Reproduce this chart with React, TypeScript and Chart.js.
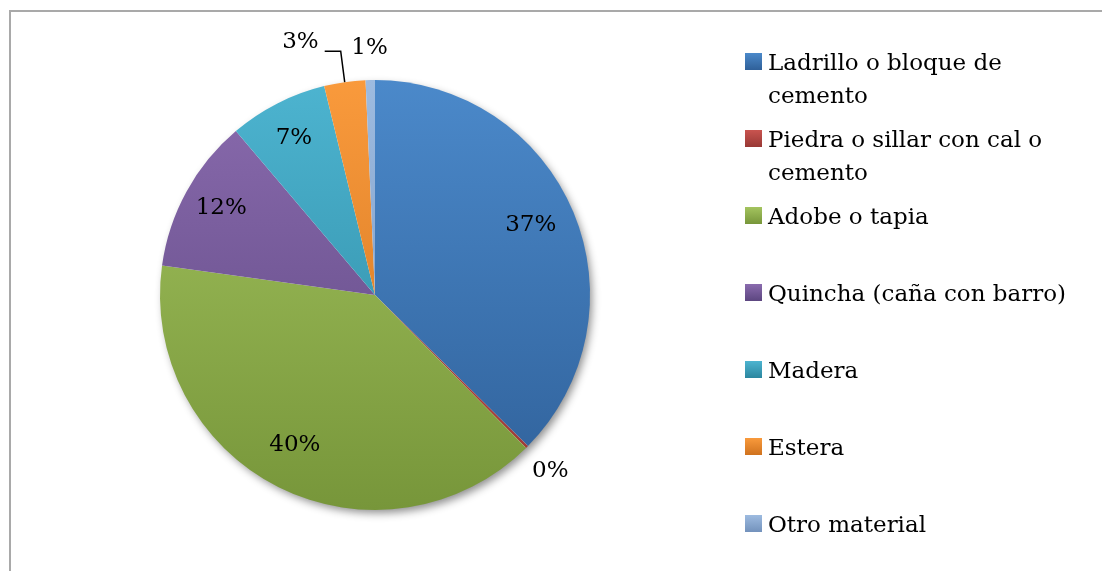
import React, { useEffect, useRef } from "react";
import { Chart, registerables } from "chart.js";

Chart.register(...registerables);

// ---- data ----
const categories = [
  "Ladrillo o bloque de cemento",
  "Piedra o sillar con cal o cemento",
  "Adobe o tapia",
  "Quincha (caña con barro)",
  "Madera",
  "Estera",
  "Otro material",
];
const legendLines = [
  ["Ladrillo o bloque de", "cemento"],
  ["Piedra o sillar con cal o", "cemento"],
  ["Adobe o tapia"],
  ["Quincha (caña con barro)"],
  ["Madera"],
  ["Estera"],
  ["Otro material"],
];
const shares = [37.4, 0.2, 39.6, 11.6, 7.4, 3.1, 0.7];
const labelModes = ["inside", "outside", "inside", "inside", "inside", "leader", "outside"];

// ---- styles ----
const topColors = ["#4b89ca", "#c9544f", "#a4c45f", "#8a6bae", "#4db4d0", "#f99a3c", "#9dbbe0"];
const bottomColors = ["#2f6099", "#983835", "#77963a", "#5c4680", "#2b869f", "#cf721e", "#7392bc"];
const FONT = '23px "DejaVu Serif", "Liberation Serif", serif';

const pieDecor = {
  id: "pieDecor",
  beforeDatasetsDraw(chart: any) {
    const meta = chart.getDatasetMeta(0);
    const a = meta.data[0];
    if (!a) return;
    const { x, y, outerRadius } = a.getProps(["x", "y", "outerRadius"], true);
    const ctx = chart.ctx;
    ctx.save();
    ctx.shadowColor = "rgba(0,0,0,0.45)";
    ctx.shadowBlur = 9;
    ctx.shadowOffsetX = 3;
    ctx.shadowOffsetY = 4;
    ctx.fillStyle = "#ffffff";
    ctx.beginPath();
    ctx.arc(x, y, outerRadius - 1, 0, Math.PI * 2);
    ctx.fill();
    ctx.restore();
  },
  afterDatasetsDraw(chart: any) {
    const ctx = chart.ctx;
    const meta = chart.getDatasetMeta(0);
    const values: number[] = chart.data.datasets[0].data;
    const total = values.reduce((s, v) => s + v, 0);
    ctx.save();
    ctx.font = FONT;
    ctx.fillStyle = "#000000";
    meta.data.forEach((arc: any, i: number) => {
      const { x, y, startAngle, endAngle, outerRadius } = arc.getProps(
        ["x", "y", "startAngle", "endAngle", "outerRadius"],
        true
      );
      const mid = (startAngle + endAngle) / 2;
      const text = Math.round((values[i] / total) * 100) + "%";
      const mode = labelModes[i];
      if (mode === "inside") {
        const r = outerRadius * 0.8;
        ctx.textAlign = "center";
        ctx.textBaseline = "middle";
        ctx.fillText(text, x + Math.cos(mid) * r - 3, y + Math.sin(mid) * r - 4);
      } else if (mode === "outside") {
        const r = outerRadius + 33;
        ctx.textAlign = "center";
        ctx.textBaseline = "middle";
        ctx.fillText(text, x + Math.cos(mid) * r, y + Math.sin(mid) * r + 1);
      } else {
        const ex = x + Math.cos(mid) * outerRadius;
        const ey = y + Math.sin(mid) * outerRadius;
        const ly = ey - 31;
        const lx = ex - 4;
        const hx = lx - 16;
        ctx.strokeStyle = "#000000";
        ctx.lineWidth = 1.5;
        ctx.beginPath();
        ctx.moveTo(ex, ey);
        ctx.lineTo(lx, ly);
        ctx.lineTo(hx, ly);
        ctx.stroke();
        ctx.textAlign = "right";
        ctx.textBaseline = "middle";
        ctx.fillText(text, hx - 6, ly - 9);
      }
    });

    // legend
    const mx = 745;
    const tx = 768;
    const firstBaseline = 70;
    const step = 77;
    const lineGap = 33;
    const box = 17;
    ctx.textAlign = "left";
    ctx.textBaseline = "alphabetic";
    legendLines.forEach((lines, i) => {
      const b = firstBaseline + step * i;
      const g = ctx.createLinearGradient(0, b - box, 0, b);
      g.addColorStop(0, topColors[i]);
      g.addColorStop(1, bottomColors[i]);
      ctx.fillStyle = g;
      ctx.fillRect(mx, b - box, box, box);
      ctx.fillStyle = "#000000";
      lines.forEach((ln, k) => ctx.fillText(ln, tx, b + k * lineGap));
    });
    ctx.restore();
  },
};

export default function App() {
  const ref = useRef<HTMLCanvasElement | null>(null);
  useEffect(() => {
    if (!ref.current) return;
    const chart = new Chart(ref.current, {
      type: "pie",
      data: {
        labels: categories,
        datasets: [
          {
            data: shares,
            borderWidth: 0,
            backgroundColor: (c: any) => {
              const area = c.chart.chartArea;
              const i = c.dataIndex;
              if (!area || i === undefined) return topColors[i ?? 0];
              const g = c.chart.ctx.createLinearGradient(0, area.top, 0, area.bottom);
              g.addColorStop(0, topColors[i]);
              g.addColorStop(1, bottomColors[i]);
              return g;
            },
          },
        ],
      },
      options: {
        responsive: false,
        animation: false,
        devicePixelRatio: 1,
        layout: { padding: { left: 160, top: 80, right: 512, bottom: 61 } },
        plugins: {
          legend: { display: false },
          tooltip: { enabled: false },
        },
      },
      plugins: [pieDecor],
    });
    return () => chart.destroy();
  }, []);

  return (
    <div>
      <div
        style={{
          position: "absolute",
          left: 9,
          top: 10,
          width: 1093,
          height: 561,
          boxSizing: "border-box",
          borderLeft: "2px solid #a9a9a9",
          borderTop: "2px solid #a9a9a9",
        }}
      />
      <canvas
        ref={ref}
        width={1102}
        height={571}
        style={{ position: "absolute", left: 0, top: 0, width: 1102, height: 571 }}
      />
    </div>
  );
}
